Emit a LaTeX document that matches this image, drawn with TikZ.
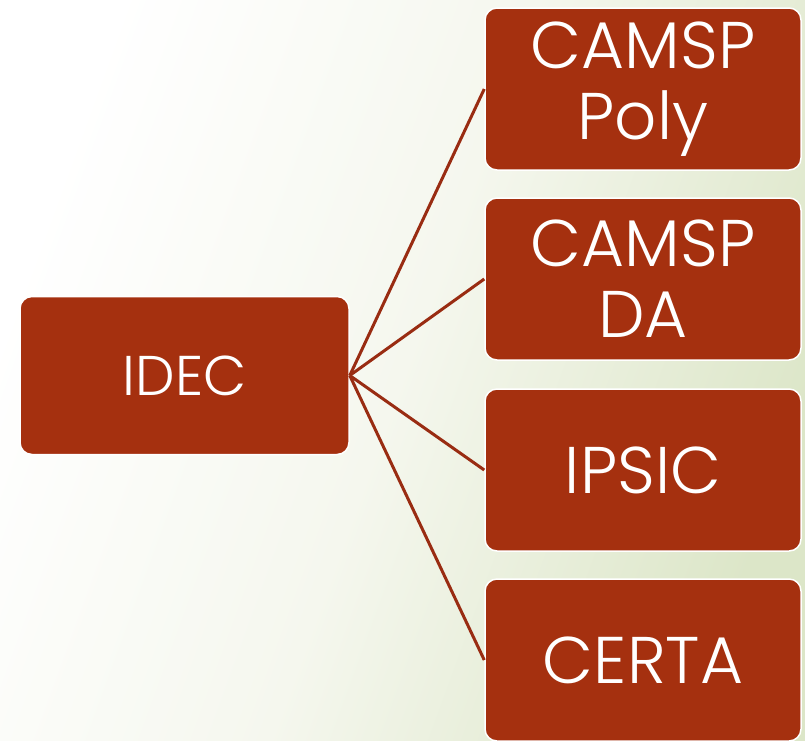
\documentclass[tikz,border=0pt]{standalone}
\usepackage{fontspec}
\IfFontExistsTF{Poppins Light}{\setmainfont{Poppins Light}}{\setmainfont{Poppins}}
\usepackage{tikz}
\usetikzlibrary{shapes,calc}

\definecolor{boxred}{HTML}{A5300F}
\definecolor{linered}{HTML}{992C12}
\definecolor{bggreen}{HTML}{DCE6C8}
\definecolor{bgmid}{HTML}{F5F7EE}

\tikzset{
    boite/.style={
        rectangle,
        rounded corners=12pt,
        fill=boxred,
        draw=white,
        line width=1.5pt,
        text=white,
        align=center,
    },
}

\begin{document}
\begin{tikzpicture}[x=1pt,y=-1pt]

    \shade[left color=white, right color=bggreen, middle color=bgmid, shading angle=70]
        (0,0) rectangle (805,740);
    \useasboundingbox (0,0) rectangle (805,740);

    \node
        [ boite,
            minimum width=329pt,
            minimum height=158pt,
            font=\fontsize{56}{60}\selectfont,
        ] (X) at (184.5,375.5) {IDEC};

    \node
        [ boite,
            minimum width=316pt,
            minimum height=162pt,
            font=\fontsize{66}{71}\selectfont,
        ] (Y1) at (643,89) {\raisebox{-5pt}{CAMSP}\\\raisebox{-5pt}{Poly}};

    \node
        [ boite,
            minimum width=316pt,
            minimum height=162pt,
            font=\fontsize{66}{71}\selectfont,
        ] (Y2) at (643,279) {\raisebox{-5pt}{CAMSP}\\\raisebox{-5pt}{DA}};

    \node
        [ boite,
            minimum width=316pt,
            minimum height=162pt,
            font=\fontsize{66}{71}\selectfont,
        ] (Y3) at (643,470) {IPSIC};

    \node
        [ boite,
            minimum width=316pt,
            minimum height=162pt,
            font=\fontsize{66}{71}\selectfont,
        ] (Y4) at (643,660) {CERTA};

    \foreach \y in {Y1,Y2,Y3,Y4}
        \draw[linered, line width=3pt] (X.east) -- (\y.west);

\end{tikzpicture}
\end{document}
